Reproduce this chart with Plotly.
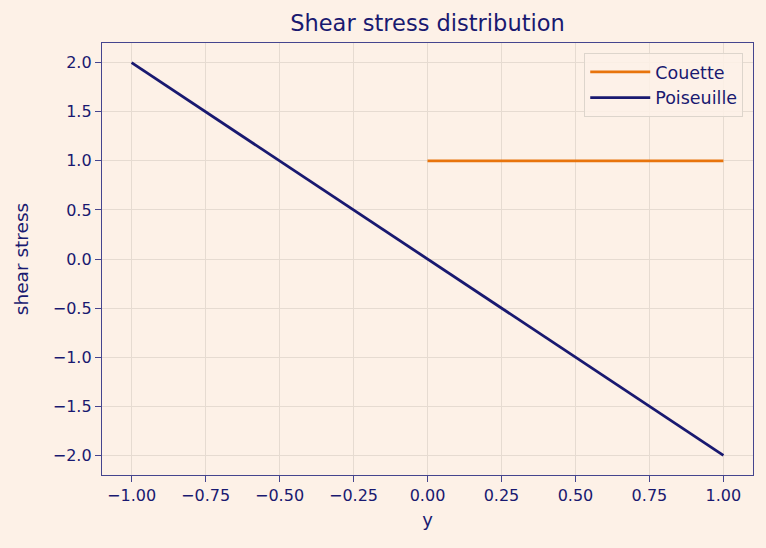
import plotly.graph_objects as go

couette_y = [0.0, 1.0]
couette_tau = [1.0, 1.0]
pois_y = [-1.0, 1.0]
pois_tau = [2.0, -2.0]
x_ticks = [-1.0, -0.75, -0.5, -0.25, 0.0, 0.25, 0.5, 0.75, 1.0]
x_ticktext = ["\u22121.00", "\u22120.75", "\u22120.50", "\u22120.25", "0.00", "0.25", "0.50", "0.75", "1.00"]
y_ticks = [-2.0, -1.5, -1.0, -0.5, 0.0, 0.5, 1.0, 1.5, 2.0]
y_ticktext = ["\u22122.0", "\u22121.5", "\u22121.0", "\u22120.5", "0.0", "0.5", "1.0", "1.5", "2.0"]

BG = "#fdf1e7"
NAVY = "#191970"
SPINE = "#45458e"
GRID = "#e6dbd1"
FONT = "DejaVu Sans"

fig = go.Figure()
fig.add_trace(go.Scatter(x=couette_y, y=couette_tau, mode="lines", name="Couette",
                         line=dict(color="#e8740c", width=2.8)))
fig.add_trace(go.Scatter(x=pois_y, y=pois_tau, mode="lines", name="Poiseuille",
                         line=dict(color=NAVY, width=2.8)))

axis_common = dict(showline=True, linecolor=SPINE, linewidth=1.4, mirror=True,
                   ticks="outside", ticklen=6, tickwidth=1.4, tickcolor=SPINE,
                   showgrid=True, gridcolor=GRID, gridwidth=1, zeroline=False,
                   tickfont=dict(family=FONT, size=16, color=NAVY))

fig.update_xaxes(range=[-1.1, 1.1], tickvals=x_ticks, ticktext=x_ticktext,
                 title=dict(text="y", font=dict(family=FONT, size=18, color=NAVY), standoff=8),
                 **axis_common)
fig.update_yaxes(range=[-2.2, 2.2], tickvals=y_ticks, ticktext=y_ticktext,
                 title=dict(text="shear stress", font=dict(family=FONT, size=18.5, color=NAVY), standoff=19),
                 **axis_common)

fig.update_layout(
    width=766, height=548,
    margin=dict(l=102, r=13, t=43, b=73),
    paper_bgcolor=BG, plot_bgcolor=BG,
    font=dict(family=FONT, color=NAVY),
    title=dict(text="Shear stress distribution", x=(102 + 753) / 2 / 766, xanchor="center",
               y=1 - 23 / 548, yanchor="middle", font=dict(family=FONT, size=22.5, color=NAVY)),
    legend=dict(x=0.985, y=0.977, xanchor="right", yanchor="top",
                bgcolor="rgba(253,241,231,0.85)", bordercolor="#ddd5cc", borderwidth=1,
                font=dict(family=FONT, size=17.5, color=NAVY), tracegroupgap=2,
                itemwidth=60),
    showlegend=True,
)

fig.write_html("out.html")
